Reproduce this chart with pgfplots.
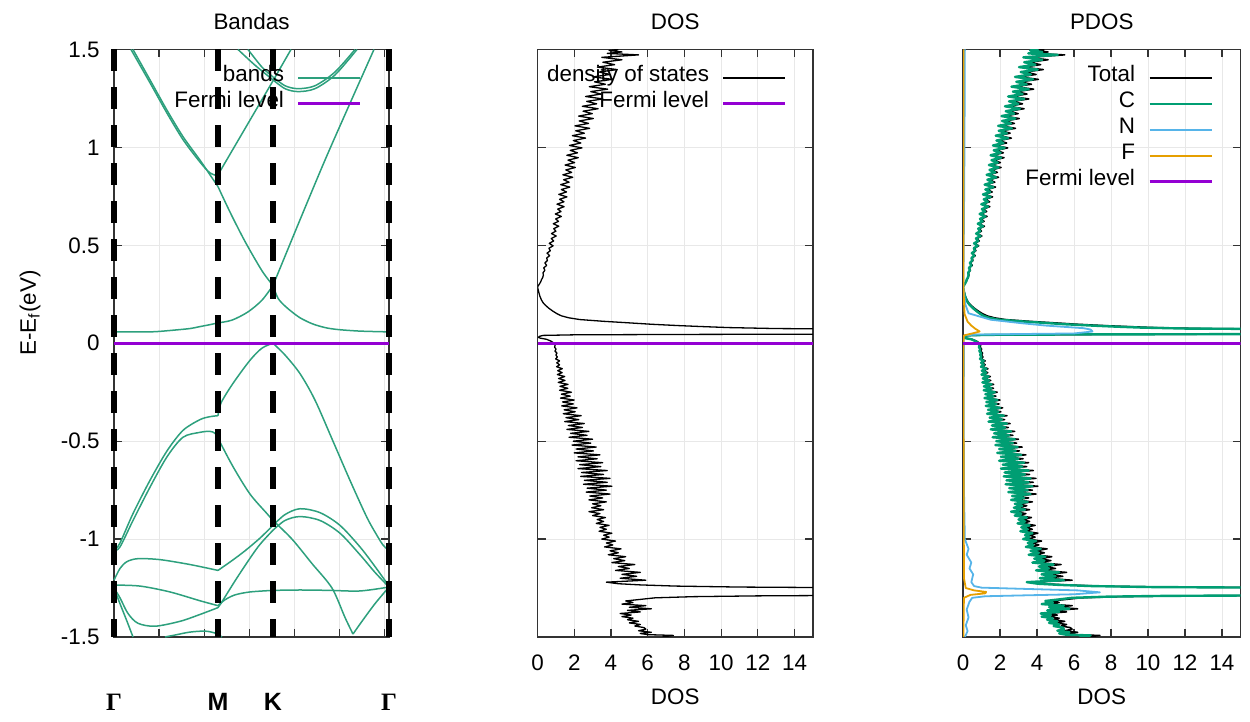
\documentclass[border=0pt]{standalone}
\usepackage{fontspec}
\setmainfont{Liberation Sans}
\newfontfamily\symfont{Liberation Serif}
\usepackage{pgfplots}
\usepackage{pgfplotstable}
\pgfplotsset{compat=1.18}

\definecolor{bandcol}{RGB}{45,160,125}
\definecolor{fermicol}{RGB}{148,0,211}
\definecolor{ccol}{RGB}{0,158,115}
\definecolor{ncol}{RGB}{86,180,233}
\definecolor{fcol}{RGB}{230,159,0}

\newcommand\lbl{\fontsize{11.2}{13}\selectfont}
\newcommand\klbl{\fontsize{12.5}{14}\selectfont}

% total DOS and carbon-projected DOS (states/eV) against E-E_f (eV)
\pgfplotstableread{
E dos C
-1.500 6.80 6.30
-1.492 7.40 6.90
-1.488 6.00 5.55
-1.482 5.60 5.20
-1.476 6.20 5.75
-1.468 5.50 5.10
-1.460 5.90 5.45
-1.452 5.80 5.40
-1.444 5.30 4.90
-1.436 5.60 5.20
-1.428 5.00 4.65
-1.420 5.50 5.10
-1.412 4.90 4.55
-1.404 5.20 4.85
-1.396 4.60 4.25
-1.388 5.10 4.75
-1.380 4.50 4.20
-1.372 5.60 5.20
-1.364 4.90 4.55
-1.356 6.20 5.75
-1.348 5.00 4.65
-1.340 5.90 5.45
-1.332 4.60 4.25
-1.324 5.20 4.85
-1.316 4.80 4.45
-1.308 5.60 5.20
-1.300 6.40 5.90
-1.294 8.50 7.80
-1.290 12.0 11.0
-1.287 18.0 18.0
-1.249 18.0 18.0
-1.245 11.0 10.2
-1.240 7.50 6.95
-1.234 5.60 5.20
-1.228 4.40 4.05
-1.220 3.75 3.45
-1.210 5.90 5.45
-1.200 4.50 4.15
-1.190 5.40 5.00
-1.180 4.60 4.25
-1.170 5.60 5.20
-1.160 4.25 3.95
-1.150 5.00 4.65
-1.140 4.40 4.10
-1.130 5.30 4.90
-1.120 4.05 3.75
-1.110 4.75 4.40
-1.100 4.15 3.85
-1.090 4.80 4.45
-1.080 3.85 3.55
-1.070 4.40 4.10
-1.060 3.95 3.65
-1.050 4.55 4.20
-1.040 3.65 3.40
-1.030 4.10 3.80
-1.020 3.75 3.50
-1.010 4.25 3.95
-1.000 3.50 3.25
-0.990 3.90 3.60
-0.980 3.60 3.35
-0.970 4.05 3.75
-0.960 3.35 3.10
-0.950 3.75 3.50
-0.940 3.40 3.15
-0.930 3.90 3.60
-0.920 3.20 2.95
-0.910 3.60 3.35
-0.900 3.25 3.00
-0.890 3.70 3.45
-0.880 3.00 2.80
-0.870 3.40 3.15
-0.860 2.80 2.60
-0.850 3.60 3.35
-0.840 2.95 2.75
-0.830 3.45 3.20
-0.820 3.00 2.80
-0.810 3.75 3.50
-0.800 2.80 2.60
-0.790 3.55 3.30
-0.780 2.85 2.65
-0.770 3.95 3.65
-0.760 2.65 2.45
-0.750 3.75 3.50
-0.740 2.70 2.50
-0.730 4.05 3.75
-0.720 2.50 2.30
-0.710 3.80 3.55
-0.700 2.55 2.35
-0.690 3.95 3.65
-0.680 2.35 2.20
-0.670 3.60 3.35
-0.660 2.40 2.25
-0.650 3.80 3.55
-0.640 2.20 2.05
-0.630 3.45 3.20
-0.620 2.30 2.15
-0.610 3.55 3.30
-0.600 2.10 1.95
-0.590 3.25 3.00
-0.580 2.20 2.05
-0.570 3.40 3.15
-0.560 2.00 1.85
-0.550 3.05 2.85
-0.540 2.10 1.95
-0.530 3.20 2.95
-0.520 1.88 1.75
-0.510 2.90 2.70
-0.500 1.95 1.80
-0.490 3.00 2.80
-0.480 1.72 1.60
-0.470 2.70 2.50
-0.460 1.80 1.68
-0.450 2.80 2.60
-0.440 1.60 1.50
-0.430 2.45 2.28
-0.420 1.68 1.56
-0.410 2.55 2.37
-0.400 1.48 1.38
-0.390 2.25 2.10
-0.380 1.55 1.44
-0.370 2.38 2.21
-0.360 1.40 1.30
-0.350 2.05 1.91
-0.340 1.45 1.35
-0.330 2.15 2.00
-0.320 1.32 1.23
-0.310 1.95 1.81
-0.300 1.36 1.26
-0.290 2.00 1.86
-0.280 1.25 1.16
-0.270 1.78 1.65
-0.260 1.30 1.21
-0.250 1.85 1.72
-0.240 1.20 1.12
-0.230 1.65 1.53
-0.220 1.22 1.13
-0.210 1.66 1.54
-0.200 1.13 1.05
-0.190 1.50 1.40
-0.180 1.15 1.07
-0.170 1.48 1.38
-0.160 1.08 1.00
-0.150 1.34 1.25
-0.140 1.10 1.02
-0.130 1.35 1.26
-0.120 1.04 0.97
-0.110 1.20 1.12
-0.100 1.05 0.98
-0.090 1.20 1.12
-0.080 0.99 0.92
-0.070 1.08 1.00
-0.060 1.00 0.93
-0.050 1.06 0.98
-0.040 0.95 0.88
-0.030 1.01 0.94
-0.020 0.93 0.86
-0.010 0.96 0.89
0.000 0.90 0.83
0.010 0.75 0.69
0.020 0.50 0.46
0.026 0.15 0.14
0.030 0.05 0.04
0.035 0.10 0.08
0.040 0.30 0.20
0.043 2.00 1.40
0.045 8.00 6.50
0.047 18.0 18.0
0.072 18.0 18.0
0.075 13.0 12.0
0.080 10.4 9.60
0.085 9.00 8.20
0.090 7.70 7.00
0.097 6.20 5.50
0.104 5.00 4.40
0.112 3.60 3.10
0.121 2.30 1.90
0.130 1.70 1.40
0.140 1.30 1.10
0.152 1.04 0.90
0.165 0.82 0.72
0.180 0.60 0.53
0.195 0.42 0.37
0.205 0.32 0.28
0.220 0.22 0.19
0.240 0.13 0.11
0.260 0.07 0.06
0.275 0.03 0.03
0.288 0.00 0.00
0.295 0.05 0.05
0.305 0.12 0.11
0.315 0.18 0.17
0.325 0.22 0.20
0.335 0.28 0.26
0.3475 0.32 0.30
0.360 0.30 0.28
0.3725 0.40 0.37
0.385 0.34 0.32
0.3975 0.50 0.46
0.410 0.40 0.37
0.4225 0.54 0.50
0.435 0.50 0.46
0.4475 0.66 0.61
0.460 0.52 0.48
0.4725 0.70 0.65
0.485 0.62 0.58
0.4975 0.85 0.79
0.510 0.64 0.60
0.5225 0.88 0.82
0.535 0.75 0.70
0.5475 1.02 0.95
0.560 0.76 0.71
0.5725 1.00 0.93
0.585 0.88 0.82
0.5975 1.16 1.08
0.610 0.86 0.80
0.6225 1.14 1.06
0.635 0.99 0.92
0.6475 1.30 1.21
0.660 0.97 0.90
0.6725 1.28 1.19
0.685 1.10 1.02
0.6975 1.45 1.35
0.710 1.06 0.99
0.7225 1.44 1.34
0.735 1.20 1.12
0.7475 1.60 1.49
0.760 1.16 1.08
0.7725 1.58 1.47
0.785 1.30 1.21
0.7975 1.76 1.64
0.810 1.26 1.17
0.8225 1.72 1.60
0.835 1.42 1.32
0.8475 1.92 1.79
0.860 1.38 1.28
0.8725 1.86 1.73
0.885 1.54 1.43
0.8975 2.06 1.92
0.910 1.50 1.40
0.9225 2.02 1.88
0.935 1.66 1.54
0.9475 2.22 2.06
0.960 1.60 1.49
0.9725 2.18 2.03
0.985 1.78 1.66
0.9975 2.42 2.25
1.010 1.74 1.62
1.0225 2.36 2.19
1.035 1.95 1.81
1.0475 2.62 2.44
1.060 1.90 1.77
1.0725 2.55 2.37
1.085 2.08 1.93
1.0975 2.84 2.64
1.110 2.04 1.90
1.1225 2.78 2.59
1.135 2.27 2.11
1.1475 3.04 2.83
1.160 2.24 2.08
1.1725 2.98 2.77
1.185 2.48 2.31
1.1975 3.30 3.07
1.210 2.44 2.27
1.2225 3.22 2.99
1.235 2.68 2.49
1.2475 3.56 3.31
1.260 2.62 2.44
1.2725 3.46 3.22
1.285 2.90 2.70
1.2975 3.82 3.55
1.310 2.82 2.62
1.3225 3.70 3.44
1.335 3.10 2.88
1.3475 4.08 3.79
1.360 3.02 2.81
1.3725 3.95 3.67
1.385 3.36 3.12
1.3975 4.34 4.04
1.410 3.26 3.03
1.4225 4.20 3.91
1.435 3.56 3.31
1.4475 4.60 4.28
1.460 3.50 3.26
1.4725 5.50 5.12
1.480 3.80 3.53
1.4875 4.60 4.28
1.495 3.90 3.63
1.500 4.40 4.09
}\dostable

% nitrogen-projected DOS
\pgfplotstableread{
E N
-1.500 0.10
-1.470 0.25
-1.440 0.15
-1.400 0.30
-1.360 0.20
-1.320 0.35
-1.300 0.50
-1.292 1.20
-1.287 3.50
-1.282 6.00
-1.272 7.40
-1.262 6.20
-1.254 3.20
-1.248 1.00
-1.240 0.60
-1.220 0.45
-1.180 0.55
-1.150 0.35
-1.120 0.45
-1.080 0.20
-1.050 0.30
-1.000 0.10
-0.800 0.06
-0.400 0.04
0.000 0.05
0.030 0.02
0.040 0.08
0.044 0.60
0.047 3.00
0.050 6.00
0.060 7.00
0.070 6.90
0.077 6.50
0.090 4.50
0.102 3.20
0.120 1.50
0.153 0.30
0.200 0.12
0.288 0.02
0.600 0.05
1.000 0.08
1.500 0.10
}\ntable

% fluorine-projected DOS
\pgfplotstableread{
E F
-1.500 0.02
-1.300 0.05
-1.285 0.40
-1.277 1.20
-1.270 1.25
-1.262 0.60
-1.250 0.15
-1.200 0.05
0.000 0.02
0.040 0.05
0.050 0.50
0.060 0.90
0.075 0.65
0.090 0.45
0.110 0.25
0.150 0.08
0.300 0.02
1.500 0.02
}\ftable

\pgfplotsset{
  panel/.style={
    scale only axis, height=293.75pt,
    ymin=-1.5, ymax=1.5, ytick={-1.5,-1,-0.5,0,0.5,1,1.5},
    axis line style={black!80, line width=0.6pt},
    tick style={black!80, line width=0.6pt},
    major tick length=4pt, minor tick length=4pt,
    tick align=inside, tick pos=both,
    grid style={gray!18, line width=0.4pt},
    ymajorgrids,
    /pgf/number format/assume math mode=true,
    ticklabel style={font=\lbl},
    every axis title shift=0pt,
    title style={font=\lbl, at={(0.5,1)}, anchor=base, yshift=9.75pt},
    label style={font=\lbl},
    legend cell align=right, legend plot pos=right,
    legend image code/.code={\draw[##1] (0pt,0pt) -- (31pt,0pt);},
  },
  legbox/.style={legend style={at={(1,1)}, anchor=north east,
    xshift=-#1, yshift=-7.75pt, draw=none, fill=none,
    inner sep=0pt, outer sep=0pt, row sep=0pt, column sep=6.5pt,
    font=\lbl, nodes={inner sep=0pt, text height=8.5pt, text depth=4.5pt}}},
  band/.style={color=bandcol, line width=0.75pt, smooth, tension=0.5,
    line join=round, forget plot},
  kpath/.style={black, line width=2.8pt, dash pattern=on 11pt off 8pt, forget plot},
  fermi/.style={color=fermicol, line width=1.5pt},
  dosline/.style={line width=0.65pt, line join=round},
}

\begin{document}
\begin{tikzpicture}
\path[use as bounding box] (0,0) rectangle (625pt,361pt);

% ---------------- band structure ----------------
\begin{axis}[panel, legbox=13.5pt,
  at={(57pt,42.5pt)}, anchor=south west, width=137.5pt,
  xmin=0, xmax=1.22, clip=false,
  title={Bandas},
  xtick={0.2,0.4,0.6,0.8,1.0,1.2}, xticklabels={}, xmajorgrids,
  extra x ticks={0,0.4613,0.7053,1.22},
  extra x tick labels={{\symfont\bfseries Γ},{\bfseries M},{\bfseries K},{\symfont\bfseries Γ}},
  extra x tick style={major tick length=0pt, grid=none,
    xticklabel style={anchor=base, yshift=-37pt, font=\klbl}},
  yticklabel pos=left,
  yticklabel style={anchor=east, inner sep=0pt, xshift=-7pt},
  ylabel={E-E\textsubscript{f}(eV)},
  every axis y label/.style={at={(axis description cs:-0.305,0.5515)}, rotate=90, anchor=center, font=\lbl},
]
% upper conduction bands
\addplot[band] coordinates {(0.0754,1.500) (0.1597,1.330) (0.2351,1.175) (0.3061,1.040) (0.3815,0.925) (0.4259,0.870) (0.4613,0.855)};
\addplot[band] coordinates {(0.4613,0.860) (0.7053,1.340)};
\addplot[band] coordinates {(0.7053,1.340) (0.7852,1.500)};
\addplot[band] coordinates {(0.0843,1.500) (0.1597,1.345) (0.2351,1.190) (0.3061,1.055) (0.3815,0.935) (0.4259,0.860) (0.4436,0.830) (0.4613,0.800)};
\addplot[band] coordinates {(0.4613,0.800) (0.5146,0.670) (0.5811,0.520) (0.6565,0.370) (0.7053,0.295)};
\addplot[band] coordinates {(0.7053,0.295) (0.8251,0.630) (0.9360,0.935) (1.0469,1.225) (1.1534,1.500)};
\addplot[band] coordinates {(0.5501,1.500) (0.6255,1.420) (0.7053,1.345)};
\addplot[band] coordinates {(0.7053,1.345) (0.7586,1.300) (0.8162,1.285) (0.8916,1.300) (0.9804,1.370) (1.0779,1.500)};
\addplot[band] coordinates {(0.5944,1.500) (0.6565,1.410) (0.7053,1.360)};
\addplot[band] coordinates {(0.7053,1.360) (0.7586,1.315) (0.8162,1.300) (0.8916,1.315) (0.9804,1.385) (1.0691,1.500)};
% lowest conduction band
\addplot[band] coordinates {(0,0.058) (0.1153,0.058) (0.1819,0.059) (0.2573,0.066) (0.3371,0.075) (0.3726,0.083) (0.4259,0.095) (0.4613,0.104)};
\addplot[band] coordinates {(0.4613,0.104) (0.5234,0.118) (0.5944,0.160) (0.6565,0.220) (0.7053,0.295)};
\addplot[band] coordinates {(0.7053,0.295) (0.7275,0.230) (0.7586,0.190) (0.7896,0.160) (0.8251,0.130) (0.8783,0.100) (0.9360,0.080) (0.9937,0.070) (1.0913,0.062) (1.22,0.058)};
% top valence band
\addplot[band] coordinates {(0,-1.060) (0.0266,-1.020) (0.0843,-0.870) (0.1597,-0.700) (0.2351,-0.550) (0.3061,-0.445) (0.3815,-0.390) (0.4259,-0.375) (0.4613,-0.370)};
\addplot[band] coordinates {(0.4613,-0.370) (0.4747,-0.305) (0.5279,-0.205) (0.6033,-0.087) (0.6565,-0.025) (0.7053,0.000)};
\addplot[band] coordinates {(0.7053,0.000) (0.7586,-0.060) (0.8251,-0.155) (0.8916,-0.290) (0.9715,-0.500) (1.0469,-0.700) (1.1223,-0.890) (1.1711,-0.990) (1.1933,-1.030) (1.22,-1.060)};
% second valence band
\addplot[band] coordinates {(0,-1.060) (0.0266,-1.040) (0.0843,-0.905) (0.1597,-0.735) (0.2351,-0.580) (0.3061,-0.480) (0.3815,-0.455) (0.4259,-0.450) (0.4480,-0.460) (0.4613,-0.485)};
\addplot[band] coordinates {(0.4613,-0.485) (0.5279,-0.630) (0.6033,-0.770) (0.6787,-0.870) (0.7053,-0.905)};
\addplot[band] coordinates {(0.7053,-0.905) (0.7896,-1.000) (0.8783,-1.125) (0.9670,-1.250) (1.0247,-1.400) (1.0602,-1.485)};
\addplot[band] coordinates {(1.0602,-1.485) (1.1001,-1.420) (1.1578,-1.330) (1.22,-1.245)};
% deeper valence bands
\addplot[band] coordinates {(0.4613,-1.160) (0.5234,-1.110) (0.5811,-1.060) (0.6477,-0.995) (0.7053,-0.930)};
\addplot[band] coordinates {(0.7053,-0.930) (0.7586,-0.875) (0.8251,-0.845) (0.9138,-0.865) (1.0025,-0.930) (1.0913,-1.040) (1.1578,-1.140) (1.22,-1.240)};
\addplot[band] coordinates {(0.4613,-1.350) (0.4791,-1.320) (0.5501,-1.190) (0.6388,-1.040) (0.7053,-0.955)};
\addplot[band] coordinates {(0.7053,-0.955) (0.7586,-0.905) (0.8251,-0.885) (0.9138,-0.905) (1.0025,-0.970) (1.0913,-1.080) (1.1578,-1.170) (1.22,-1.245)};
\addplot[band] coordinates {(0.4613,-1.340) (0.4924,-1.310) (0.5368,-1.285) (0.6033,-1.270) (0.7053,-1.262)};
\addplot[band] coordinates {(0.7053,-1.262) (0.8251,-1.260) (0.9582,-1.262) (1.0913,-1.265) (1.22,-1.245)};
\addplot[band] coordinates {(0,-1.210) (0.0266,-1.150) (0.0577,-1.115) (0.1065,-1.100) (0.2041,-1.105) (0.3371,-1.130) (0.4613,-1.160)};
\addplot[band] coordinates {(0,-1.235) (0.1153,-1.240) (0.2484,-1.270) (0.3815,-1.315) (0.4613,-1.340)};
\addplot[band] coordinates {(0,-1.250) (0.0266,-1.300) (0.0621,-1.380) (0.1065,-1.430) (0.1819,-1.445) (0.2928,-1.420) (0.3815,-1.385) (0.4613,-1.350)};
\addplot[band] coordinates {(0,-1.250) (0.0266,-1.330) (0.0577,-1.420) (0.0843,-1.500)};
\addplot[band] coordinates {(0.2262,-1.500) (0.2706,-1.490) (0.3371,-1.475) (0.4037,-1.470) (0.4480,-1.480) (0.4791,-1.500)};
% Fermi level and high-symmetry points
\addplot[fermi, forget plot] coordinates {(0,0) (1.22,0)};
\addplot[kpath] coordinates {(0,1.5) (0,-1.5)};
\addplot[kpath] coordinates {(0.4613,1.5) (0.4613,-1.5)};
\addplot[kpath] coordinates {(0.7053,1.5) (0.7053,-1.5)};
\addplot[kpath] coordinates {(1.22,1.5) (1.22,-1.5)};
\addlegendimage{color=bandcol, line width=0.75pt}
\addlegendentry{bands}
\addlegendimage{fermi}
\addlegendentry{Fermi level}
\end{axis}

% ---------------- total DOS ----------------
\begin{axis}[panel, legbox=13pt,
  at={(268.75pt,42.5pt)}, anchor=south west, width=137.75pt,
  xmin=0, xmax=15, xtick={0,2,...,14}, xmajorgrids,
  xticklabel style={anchor=base, yshift=-17pt},
  yticklabels={},
  title={DOS}, xlabel={DOS},
  every axis x label/.style={at={(axis description cs:0.5,0)}, anchor=base, yshift=-34pt, font=\lbl},
]
\addplot[dosline, black] table[x=dos, y=E] {\dostable};
\addlegendentry{density of states}
\addplot[fermi] coordinates {(0,0) (15,0)};
\addlegendentry{Fermi level}
\end{axis}

% ---------------- projected DOS ----------------
\begin{axis}[panel, legbox=13.75pt,
  at={(481.5pt,42.5pt)}, anchor=south west, width=138.75pt,
  xmin=0, xmax=15, xtick={0,2,...,14}, xmajorgrids,
  xticklabel style={anchor=base, yshift=-17pt},
  yticklabels={},
  title={PDOS}, xlabel={DOS},
  every axis x label/.style={at={(axis description cs:0.5,0)}, anchor=base, yshift=-34pt, font=\lbl},
]
\addplot[line width=0.75pt, line join=round, black] table[x=dos, y=E] {\dostable};
\addlegendentry{Total}
\addplot[line width=1.2pt, line join=round, color=ccol] table[x=C, y=E] {\dostable};
\addlegendentry{C}
\addplot[line width=0.9pt, line join=round, color=ncol] table[x=N, y=E] {\ntable};
\addlegendentry{N}
\addplot[line width=0.9pt, line join=round, color=fcol] table[x=F, y=E] {\ftable};
\addlegendentry{F}
\addplot[fermi] coordinates {(0,0) (15,0)};
\addlegendentry{Fermi level}
\end{axis}
\end{tikzpicture}
\end{document}
